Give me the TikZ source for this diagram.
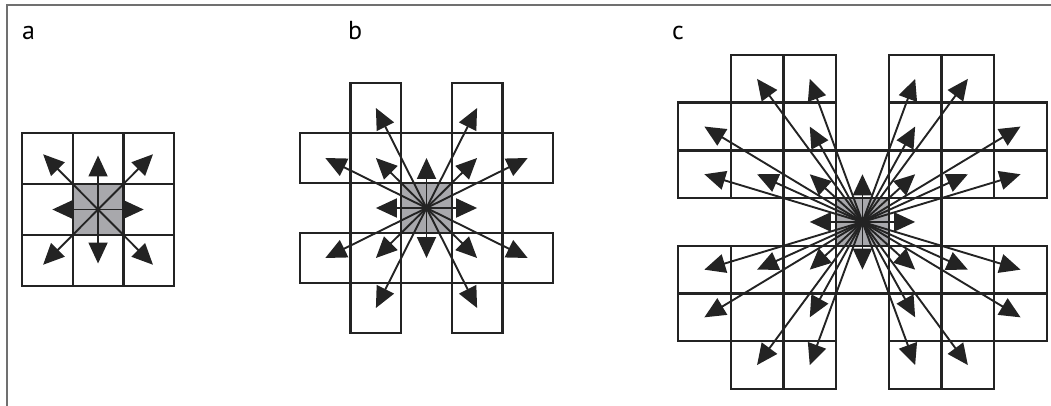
\documentclass[tikz,border=0pt]{standalone}
\usepackage{fontspec}
\setmainfont{PT Sans}
\usetikzlibrary{arrows.meta}
\definecolor{gridline}{RGB}{35,35,35}
\definecolor{cellgray}{RGB}{168,168,172}
\definecolor{framegray}{RGB}{112,112,112}
\begin{document}
\begin{tikzpicture}[x=1pt,y=-1pt,
  cellbox/.style 2 args={draw=gridline, line width=2.4pt, inner sep=0pt, outer sep=0pt,
    minimum width=#1, minimum height=#2},
  centrecell/.style={fill=cellgray},
  arr/.style={draw=gridline, line width=1.9pt,
    -{Triangle[length=21pt,width=19pt]}},
  panellabel/.style={font=\fontsize{26}{30}\selectfont, anchor=base west, inner sep=0pt}]
\useasboundingbox (0,0) rectangle (1051,406);

% border of the figure
\draw[framegray, line width=1.8pt] (7,406) -- (7,5) -- (1051,5);

% labels
\node[panellabel] (la) at (22,40) {a};
\node[panellabel] (lb) at (348,40) {b};
\node[panellabel] (lc) at (672,40) {c};

% ---------- panel a: 3x3 neighbourhood ----------
\foreach \i/\j in {0/0,1/0,2/0,0/1,2/1,0/2,1/2,2/2}
  \node[cellbox={50.7pt}{51pt}] (a-\i-\j) at ({22+(\i+0.5)*50.7},{133+(\j+0.5)*51}) {};
\node[cellbox={50.7pt}{51pt}, centrecell] (a-c) at ({22+1.5*50.7},{133+1.5*51}) {};

% ---------- panel b ----------
\foreach \i/\j in {1/0,3/0,0/1,1/1,2/1,3/1,4/1,1/2,3/2,0/3,1/3,2/3,3/3,4/3,1/4,3/4}
  \node[cellbox={50.6pt}{50pt}] (b-\i-\j) at ({300+(\i+0.5)*50.6},{83+(\j+0.5)*50}) {};
\node[cellbox={50.6pt}{50pt}, centrecell] (b-c) at ({300+2.5*50.6},{83+2.5*50}) {};

% ---------- panel c ----------
\foreach \i/\j in {1/0,2/0,4/0,5/0,
                   0/1,1/1,2/1,4/1,5/1,6/1,
                   0/2,1/2,2/2,3/2,4/2,5/2,6/2,
                   2/3,4/3,
                   0/4,1/4,2/4,3/4,4/4,5/4,6/4,
                   0/5,1/5,2/5,4/5,5/5,6/5,
                   1/6,2/6,4/6,5/6}
  \node[cellbox={52.7pt}{47.7pt}] (c-\i-\j) at ({678+(\i+0.5)*52.7},{55+(\j+0.5)*47.7}) {};
\node[cellbox={52.7pt}{47.7pt}, centrecell] (c-c) at ({678+3.5*52.7},{55+3.5*47.7}) {};

% ---------- arrows ----------
\foreach \i/\j in {0/0,2/0,0/2,2/2}
  \draw[arr, shorten >=-6pt] (a-c.center) -- (a-\i-\j.center);
\foreach \i/\j in {1/0,1/2}
  \draw[arr, shorten >=-3pt] (a-c.center) -- (a-\i-\j.center);
\foreach \i/\j in {0/1,2/1}
  \draw[arr, shorten >=5pt] (a-c.center) -- (a-\i-\j.center);

\foreach \i/\j in {1/0,3/0,0/1,1/1,2/1,3/1,4/1,1/2,3/2,0/3,1/3,2/3,3/3,4/3,1/4,3/4}
  \draw[arr] (b-c.center) -- (b-\i-\j.center);

\foreach \i/\j in {1/0,2/0,4/0,5/0,
                   0/1,2/1,4/1,6/1,
                   0/2,1/2,2/2,3/2,4/2,5/2,6/2,
                   2/3,4/3,
                   0/4,1/4,2/4,3/4,4/4,5/4,6/4,
                   0/5,2/5,4/5,6/5,
                   1/6,2/6,4/6,5/6}
  \draw[arr] (c-c.center) -- (c-\i-\j.center);
\end{tikzpicture}
\end{document}
